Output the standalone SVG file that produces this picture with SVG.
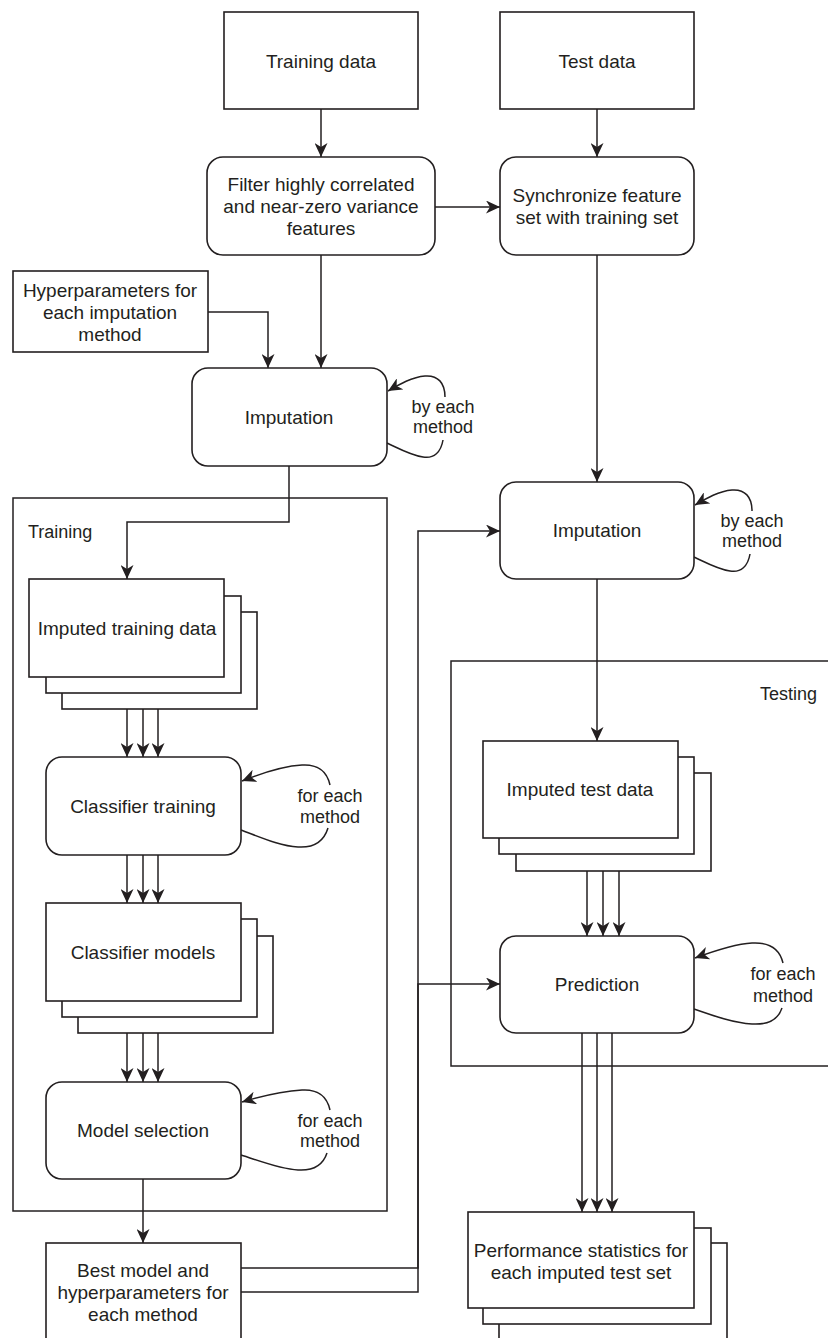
<svg xmlns="http://www.w3.org/2000/svg" width="828" height="1338" viewBox="0 0 828 1338">
<style>
.box{fill:#fff;stroke:#231f20;stroke-width:1.6}
.cont{fill:none;stroke:#231f20;stroke-width:1.5}
.ln{fill:none;stroke:#231f20;stroke-width:1.5}
.t{font-family:"Liberation Sans",Arial,sans-serif;font-size:19px;fill:#231f20;text-anchor:middle}
.lb{font-family:"Liberation Sans",Arial,sans-serif;font-size:18px;fill:#231f20;text-anchor:middle}
.cl{font-family:"Liberation Sans",Arial,sans-serif;font-size:18px;fill:#231f20}
</style>
<defs>
<marker id="ah" viewBox="0 0 14 13" refX="14" refY="6.5" markerWidth="14" markerHeight="13" markerUnits="userSpaceOnUse" orient="auto">
<path d="M0,0 L14,6.5 L0,13 L4,6.5 z" fill="#231f20"/>
</marker>
</defs>
<rect width="828" height="1338" fill="#fff"/>

<g id="training-container">
<rect class="cont" x="13" y="498" width="374" height="713"/>
<text class="cl" x="28" y="538">Training</text>
</g>
<g id="testing-container">
<rect class="cont" x="451" y="661" width="400" height="405"/>
<text class="cl" x="760" y="700">Testing</text>
</g>

<g id="connectors">
<path class="ln" d="M321,109 V157" marker-end="url(#ah)"/>
<path class="ln" d="M597,109 V157" marker-end="url(#ah)"/>
<path class="ln" d="M435,207 H500" marker-end="url(#ah)"/>
<path class="ln" d="M208,312 H268 V368" marker-end="url(#ah)"/>
<path class="ln" d="M321,255 V368" marker-end="url(#ah)"/>
<path class="ln" d="M597,255 V482" marker-end="url(#ah)"/>
<path class="ln" d="M289,466 V522 H127 V579" marker-end="url(#ah)"/>
<path class="ln" d="M127,709 V757" marker-end="url(#ah)"/>
<path class="ln" d="M143,709 V757" marker-end="url(#ah)"/>
<path class="ln" d="M158,709 V757" marker-end="url(#ah)"/>
<path class="ln" d="M127,855 V903" marker-end="url(#ah)"/>
<path class="ln" d="M143,855 V903" marker-end="url(#ah)"/>
<path class="ln" d="M158,855 V903" marker-end="url(#ah)"/>
<path class="ln" d="M127,1033 V1082" marker-end="url(#ah)"/>
<path class="ln" d="M143,1033 V1082" marker-end="url(#ah)"/>
<path class="ln" d="M158,1033 V1082" marker-end="url(#ah)"/>
<path class="ln" d="M143,1179 V1243" marker-end="url(#ah)"/>
<path class="ln" d="M241,1268 H418 V531 H500" marker-end="url(#ah)"/>
<path class="ln" d="M241,1292 H418 V984 H500" marker-end="url(#ah)"/>
<path class="ln" d="M597,579 V741" marker-end="url(#ah)"/>
<path class="ln" d="M587,871 V936" marker-end="url(#ah)"/>
<path class="ln" d="M603,871 V936" marker-end="url(#ah)"/>
<path class="ln" d="M619,871 V936" marker-end="url(#ah)"/>
<path class="ln" d="M582,1033 V1212" marker-end="url(#ah)"/>
<path class="ln" d="M597,1033 V1212" marker-end="url(#ah)"/>
<path class="ln" d="M612,1033 V1212" marker-end="url(#ah)"/>
<path class="ln" d="M445,397 C445,383 438,375 425,376 C412,377 400,384 388,391" marker-end="url(#ah)"/>
<path class="ln" d="M443,440 C441,452 434,459 423,457 C410,455 398,448 387,443"/>
<path class="ln" d="M752,511 C752,497 745,489 732,490 C719,491 707,498 695,505" marker-end="url(#ah)"/>
<path class="ln" d="M750,554 C748,566 741,573 730,571 C717,569 705,562 694,557"/>
<path class="ln" d="M330,785 C327,771 317,764 302,765 C284,766 262,773 242,781" marker-end="url(#ah)"/>
<path class="ln" d="M328,828 C324,841 314,848 298,847 C280,846 260,837 241,830"/>
<path class="ln" d="M330,1110 C327,1096 317,1089 302,1090 C284,1091 262,1096 242,1102" marker-end="url(#ah)"/>
<path class="ln" d="M327,1153 C323,1165 314,1171 298,1170 C280,1169 260,1161 241,1155"/>
<path class="ln" d="M783,963 C780,950 770,942 752,943 C734,944 714,951 695,958" marker-end="url(#ah)"/>
<path class="ln" d="M782,1008 C778,1020 768,1025 752,1024 C734,1023 714,1016 694,1009"/>
<text class="lb" x="443" y="413">by each</text>
<text class="lb" x="443" y="433">method</text>
<text class="lb" x="752" y="527">by each</text>
<text class="lb" x="752" y="547">method</text>
<text class="lb" x="330" y="802">for each</text>
<text class="lb" x="330" y="823">method</text>
<text class="lb" x="330" y="1127">for each</text>
<text class="lb" x="330" y="1147">method</text>
<text class="lb" x="783" y="980">for each</text>
<text class="lb" x="783" y="1002">method</text>
</g>

<g id="training-data">
<rect class="box" x="224" y="12" width="194" height="97"/>
<text class="t" x="321" y="68">Training data</text>
</g>
<g id="test-data">
<rect class="box" x="500" y="12" width="194" height="97"/>
<text class="t" x="597" y="68">Test data</text>
</g>
<g id="filter">
<rect class="box" x="207" y="157" width="228" height="98" rx="16"/>
<text class="t" x="321" y="191">Filter highly correlated</text>
<text class="t" x="321" y="213">and near-zero variance</text>
<text class="t" x="321" y="235">features</text>
</g>
<g id="synchronize">
<rect class="box" x="500" y="157" width="194" height="98" rx="16"/>
<text class="t" x="597" y="202">Synchronize feature</text>
<text class="t" x="597" y="224">set with training set</text>
</g>
<g id="hyperparameters">
<rect class="box" x="13" y="271" width="195" height="81"/>
<text class="t" x="110" y="297">Hyperparameters for</text>
<text class="t" x="110" y="319">each imputation</text>
<text class="t" x="110" y="341">method</text>
</g>
<g id="imputation-train">
<rect class="box" x="192" y="368" width="195" height="98" rx="16"/>
<text class="t" x="289" y="424">Imputation</text>
</g>
<g id="imputation-test">
<rect class="box" x="500" y="482" width="194" height="97" rx="16"/>
<text class="t" x="597" y="537">Imputation</text>
</g>
<g id="imputed-training-data">
<rect class="box" x="62" y="612" width="195" height="97"/>
<rect class="box" x="46" y="596" width="195" height="97"/>
<rect class="box" x="29" y="579" width="195" height="98"/>
<text class="t" x="127" y="635">Imputed training data</text>
</g>
<g id="classifier-training">
<rect class="box" x="46" y="757" width="195" height="98" rx="16"/>
<text class="t" x="143" y="813">Classifier training</text>
</g>
<g id="classifier-models">
<rect class="box" x="78" y="936" width="195" height="97"/>
<rect class="box" x="62" y="919" width="195" height="98"/>
<rect class="box" x="46" y="903" width="195" height="98"/>
<text class="t" x="143" y="959">Classifier models</text>
</g>
<g id="model-selection">
<rect class="box" x="46" y="1082" width="195" height="97" rx="16"/>
<text class="t" x="143" y="1137">Model selection</text>
</g>
<g id="best-model">
<rect class="box" x="46" y="1243" width="195" height="110"/>
<text class="t" x="143" y="1277">Best model and</text>
<text class="t" x="143" y="1299">hyperparameters for</text>
<text class="t" x="143" y="1321">each method</text>
</g>
<g id="imputed-test-data">
<rect class="box" x="516" y="773" width="195" height="98"/>
<rect class="box" x="499" y="757" width="195" height="97"/>
<rect class="box" x="483" y="741" width="195" height="97"/>
<text class="t" x="580" y="796">Imputed test data</text>
</g>
<g id="prediction">
<rect class="box" x="500" y="936" width="194" height="97" rx="16"/>
<text class="t" x="597" y="991">Prediction</text>
</g>
<g id="performance">
<rect class="box" x="499" y="1243" width="228" height="110"/>
<rect class="box" x="483" y="1228" width="228" height="96"/>
<rect class="box" x="468" y="1212" width="226" height="96"/>
<text class="t" x="581" y="1257">Performance statistics for</text>
<text class="t" x="581" y="1279">each imputed test set</text>
</g>
</svg>
